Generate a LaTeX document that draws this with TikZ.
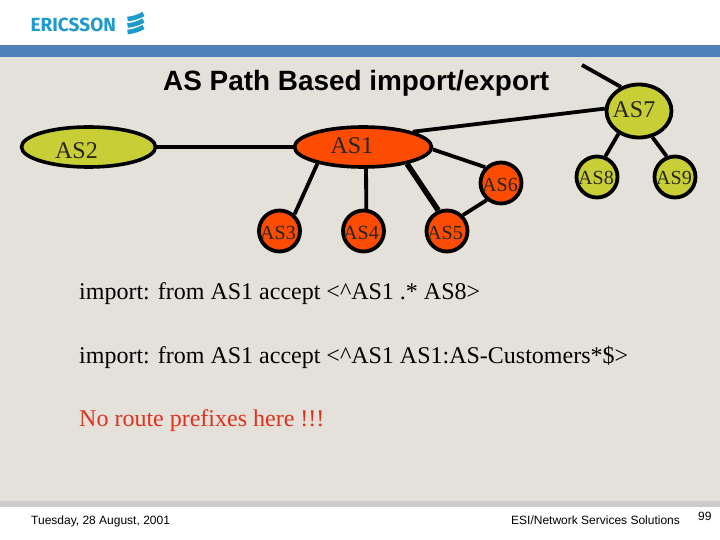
\documentclass[tikz,border=0pt]{standalone}
\usepackage{fontspec}
\setmainfont{Liberation Serif}
\newfontfamily\arialf{Liberation Sans}
\newfontfamily\logof{Fira Sans}
\usetikzlibrary{shapes.geometric}
\definecolor{bandblue}{HTML}{4F81B8}
\definecolor{paper}{HTML}{E3E1DA}
\definecolor{bandgrey}{HTML}{CBCBCB}
\definecolor{asred}{HTML}{FC4C02}
\definecolor{asgreen}{HTML}{C8CE35}
\definecolor{logoblue}{HTML}{1E9BCB}
\definecolor{noroute}{HTML}{E0301E}
\tikzset{
  x=1pt,y=-1pt,
  big/.style={ellipse,draw=black,line width=3.6pt,minimum width=#1,minimum height=40pt,inner sep=0pt},
  disc/.style={circle,draw=black,line width=3.8pt,minimum size=41pt,inner sep=0pt},
  link/.style={line width=3.8pt,draw=black},
  biglabel/.style={font=\fontsize{24}{24}\selectfont,text=black!85,inner sep=0pt},
  smalllabel/.style={font=\fontsize{20}{20}\selectfont,text=black!85,inner sep=0pt},
  bodyline/.style={anchor=base west,font=\fontsize{24}{24}\selectfont,inner sep=0pt},
  foot/.style={anchor=base west,font=\arialf\fontsize{12}{12}\selectfont,inner sep=0pt},
  logobar/.style={line width=4.6pt,draw=logoblue}
}
\begin{document}
\begin{tikzpicture}
\useasboundingbox (0,0) rectangle (720,540);
\fill[white] (0,0) rectangle (720,540);
\fill[paper] (0,57) rectangle (720,501);
\fill[bandblue] (0,45) rectangle (720,57);
\fill[bandgrey] (0,501) rectangle (720,507);
% logo
\node[anchor=base west,inner sep=0pt,text=logoblue,font=\logof\bfseries\fontsize{19}{19}\selectfont] (logo) at (30.5,31.5) {ERICSSON};
\draw[logobar] (127.5,19) .. controls (133,18.5) and (138,17) .. (143.5,14);
\draw[logobar] (127.5,25.5) .. controls (133,25) and (138,23.5) .. (143.5,20.5);
\draw[logobar] (127.5,32) .. controls (133,31.5) and (138,30) .. (143.5,27);
% title
\node[anchor=base west,inner sep=0pt,font=\arialf\bfseries\fontsize{27.9}{27.9}\selectfont] (title) at (163,90.5) {AS Path Based import/export};
% nodes
\node[big=134pt,fill=asgreen] (as2) at (88.5,147) {};
\node[big=137pt,fill=asred] (as1) at (363,147) {};
\node[disc,fill=asred] (as3) at (279.5,231) {};
\node[disc,fill=asred] (as4) at (363.5,231) {};
\node[disc,fill=asred] (as5) at (447,231) {};
\node[disc,fill=asred] (as6) at (501,183) {};
\node[ellipse,draw=black,line width=3.8pt,minimum width=65pt,minimum height=53pt,inner sep=0pt,fill=asgreen] (as7) at (639,111) {};
\node[disc,fill=asgreen] (as8) at (597,177) {};
\node[disc,fill=asgreen] (as9) at (675,177) {};
\coordinate (free) at (582,65);
% links
\draw[link] (as2.east) -- (as1.west);
\draw[link] (as1.200) -- (as3.48);
\draw[link] (as1.278) -- (as4.83);
\draw[link,line width=5.5pt] (as1.-21) -- (as5.113);
\draw[link] (as1.-2) -- (as6.135);
\draw[link] (as5.45) -- (as6.230);
\draw[link] (as1.17) -- (as7.176);
\draw[link] (as7.127) -- (free);
\draw[link] (as7.228) -- (as8.68);
\draw[link] (as7.297) -- (as9.112);
% labels
\node[biglabel] (l2) at (76.5,151) {AS2};
\node[biglabel] (l1) at (352,146) {AS1};
\node[biglabel] (l7) at (634,110) {AS7};
\node[smalllabel] (l3) at (278,233) {AS3};
\node[smalllabel] (l4) at (361,233) {AS4};
\node[smalllabel] (l5) at (445,233) {AS5};
\node[smalllabel] (l6) at (500,185) {AS6};
\node[smalllabel] (l8) at (596,178) {AS8};
\node[smalllabel] (l9) at (674,178) {AS9};
% text
\node[bodyline] (t1) at (79,299) {import: from AS1 accept <\^{}AS1 .* AS8>};
\node[bodyline] (t2) at (79,363) {import: from AS1 accept <\^{}AS1 AS1:AS-Customers*\$>};
\node[bodyline,text=noroute] (t3) at (79,426) {No route prefixes here !!!};
% footer
\node[foot] (f1) at (31,524) {Tuesday, 28 August, 2001};
\node[foot] (f2) at (511,524) {ESI/Network Services Solutions};
\node[foot] (f3) at (698,520) {99};
\end{tikzpicture}
\end{document}
